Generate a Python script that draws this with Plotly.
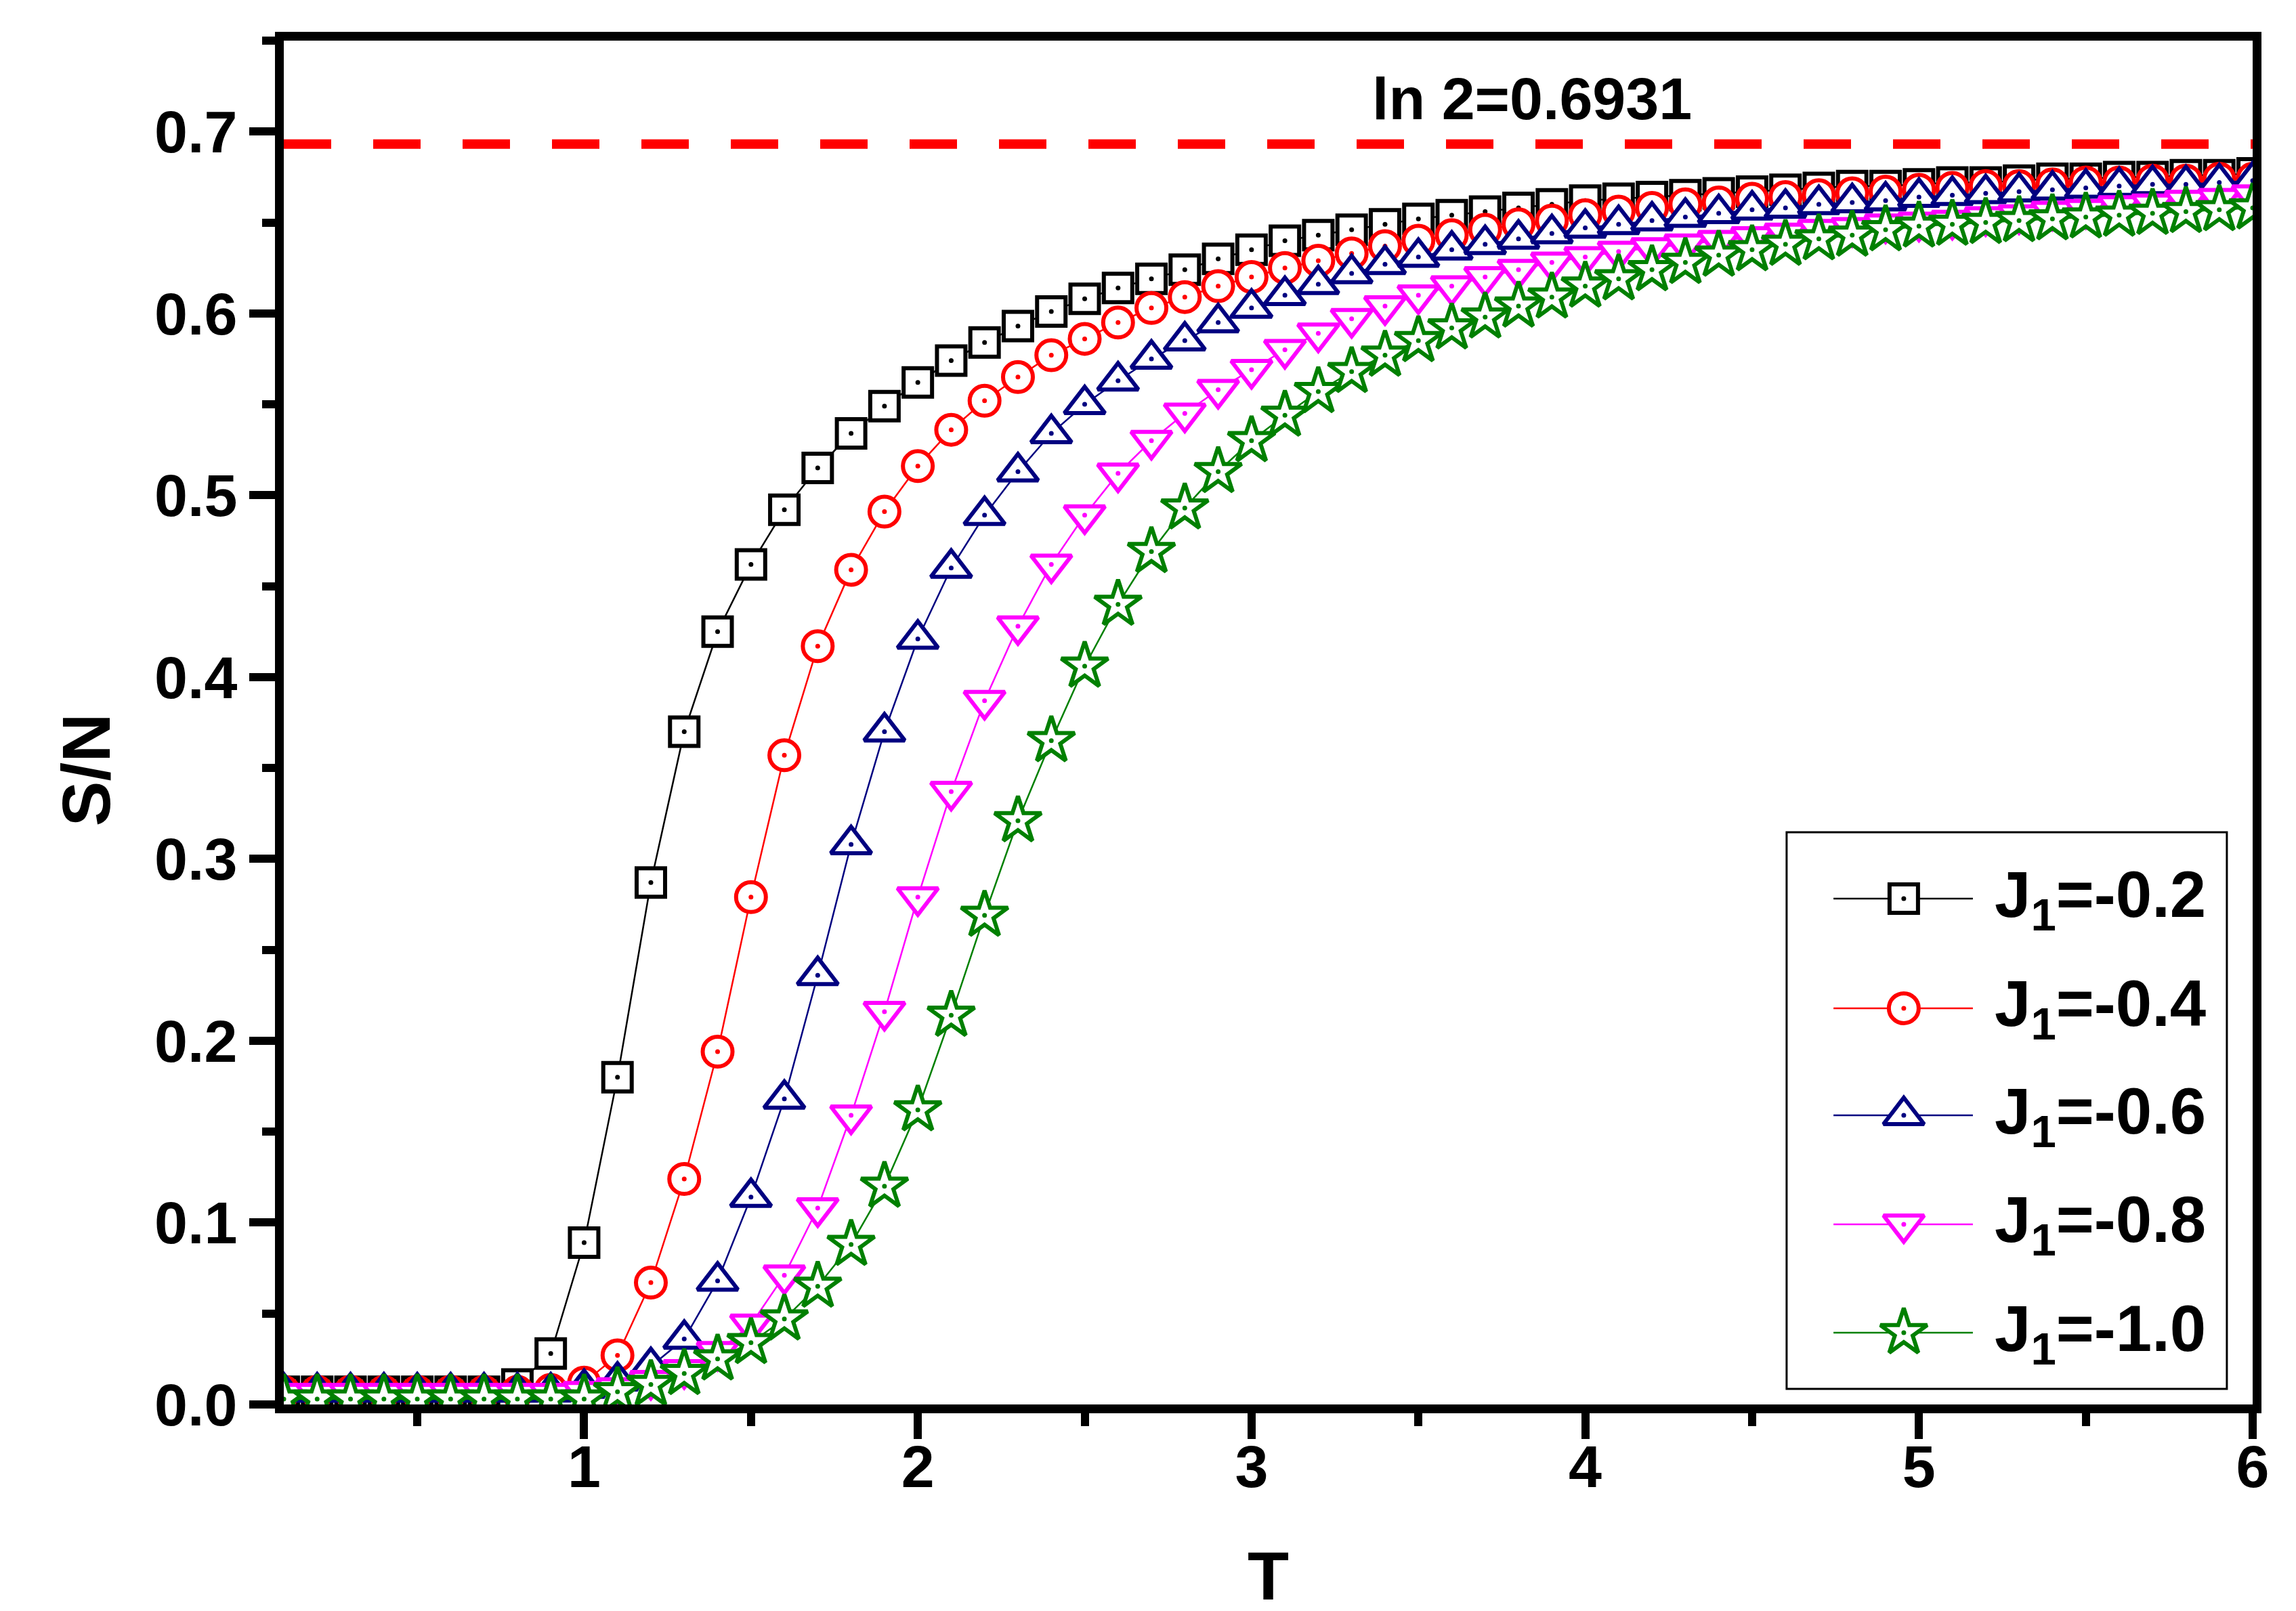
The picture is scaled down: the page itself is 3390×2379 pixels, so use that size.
import plotly.graph_objects as go

# ---------------- data ----------------
T = [0.1, 0.2, 0.3, 0.4, 0.5, 0.6, 0.7, 0.8, 0.9, 1.0,
     1.1, 1.2, 1.3, 1.4, 1.5, 1.6, 1.7, 1.8, 1.9, 2.0,
     2.1, 2.2, 2.3, 2.4, 2.5, 2.6, 2.7, 2.8, 2.9, 3.0,
     3.1, 3.2, 3.3, 3.4, 3.5, 3.6, 3.7, 3.8, 3.9, 4.0,
     4.1, 4.2, 4.3, 4.4, 4.5, 4.6, 4.7, 4.8, 4.9, 5.0,
     5.1, 5.2, 5.3, 5.4, 5.5, 5.6, 5.7, 5.8, 5.9, 6.0]

S_J1_m02 = [0.007, 0.007, 0.007, 0.007, 0.007, 0.007, 0.007, 0.011, 0.028, 0.089,
            0.180, 0.287, 0.370, 0.425, 0.462, 0.492, 0.515, 0.534, 0.549, 0.562,
            0.574, 0.584, 0.593, 0.601, 0.608, 0.614, 0.619, 0.624, 0.630, 0.635,
            0.640, 0.643, 0.646, 0.649, 0.652, 0.654, 0.656, 0.658, 0.660, 0.662,
            0.663, 0.664, 0.665, 0.666, 0.667, 0.668, 0.669, 0.670, 0.670, 0.671,
            0.672, 0.672, 0.673, 0.674, 0.674, 0.675, 0.675, 0.676, 0.676, 0.677]

S_J1_m04 = [0.007, 0.007, 0.007, 0.007, 0.007, 0.007, 0.007, 0.007, 0.008, 0.012,
            0.027, 0.067, 0.124, 0.194, 0.279, 0.357, 0.417, 0.459, 0.491, 0.516,
            0.536, 0.552, 0.565, 0.577, 0.586, 0.595, 0.603, 0.609, 0.615, 0.620,
            0.625, 0.629, 0.633, 0.637, 0.640, 0.643, 0.646, 0.649, 0.651, 0.654,
            0.656, 0.658, 0.660, 0.661, 0.663, 0.664, 0.665, 0.666, 0.667, 0.668,
            0.669, 0.670, 0.670, 0.671, 0.672, 0.672, 0.673, 0.673, 0.674, 0.674]

S_J1_m06 = [0.007, 0.007, 0.007, 0.007, 0.007, 0.007, 0.007, 0.007, 0.007, 0.009,
            0.013, 0.021, 0.036, 0.068, 0.114, 0.168, 0.236, 0.308, 0.370, 0.421,
            0.460, 0.489, 0.513, 0.534, 0.550, 0.563, 0.575, 0.585, 0.595, 0.603,
            0.610, 0.616, 0.622, 0.627, 0.631, 0.635, 0.638, 0.641, 0.644, 0.647,
            0.649, 0.651, 0.653, 0.655, 0.657, 0.658, 0.660, 0.661, 0.662, 0.664,
            0.665, 0.666, 0.667, 0.668, 0.669, 0.670, 0.671, 0.671, 0.672, 0.673]

S_J1_m08 = [0.006, 0.006, 0.006, 0.006, 0.006, 0.006, 0.006, 0.006, 0.006, 0.007,
            0.009, 0.013, 0.019, 0.029, 0.044, 0.071, 0.108, 0.159, 0.216, 0.279,
            0.337, 0.387, 0.428, 0.462, 0.489, 0.512, 0.530, 0.545, 0.558, 0.569,
            0.580, 0.589, 0.597, 0.604, 0.610, 0.615, 0.620, 0.624, 0.628, 0.631,
            0.634, 0.636, 0.638, 0.640, 0.642, 0.644, 0.646, 0.647, 0.649, 0.650,
            0.651, 0.653, 0.654, 0.656, 0.657, 0.659, 0.660, 0.662, 0.663, 0.665]

S_J1_m10 = [0.003, 0.003, 0.003, 0.003, 0.003, 0.003, 0.003, 0.003, 0.003, 0.003,
            0.007, 0.011, 0.017, 0.025, 0.034, 0.047, 0.065, 0.088, 0.120, 0.162,
            0.214, 0.269, 0.321, 0.365, 0.406, 0.440, 0.469, 0.493, 0.513, 0.530,
            0.544, 0.557, 0.568, 0.577, 0.585, 0.592, 0.598, 0.604, 0.609, 0.615,
            0.619, 0.624, 0.628, 0.632, 0.635, 0.638, 0.641, 0.643, 0.646, 0.648,
            0.649, 0.650, 0.651, 0.652, 0.653, 0.654, 0.655, 0.656, 0.657, 0.658]

LABELS = ["J<sub>1</sub>=-0.2", "J<sub>1</sub>=-0.4", "J<sub>1</sub>=-0.6",
          "J<sub>1</sub>=-0.8", "J<sub>1</sub>=-1.0"]
SERIES = [S_J1_m02, S_J1_m04, S_J1_m06, S_J1_m08, S_J1_m10]
COLORS = ["#000000", "#FF0000", "#000080", "#FF00FF", "#008000"]
SYMBOLS = ["square", "circle", "triangle-up", "triangle-down", "star"]
SIZES = [42, 44, 52, 52, 52]

LN2 = 0.6931
X_TICKS = [1, 2, 3, 4, 5, 6]
Y_TICKS = [0.0, 0.1, 0.2, 0.3, 0.4, 0.5, 0.6, 0.7]

FONT = "Liberation Sans, Arial, sans-serif"

fig = go.Figure()

for lab, ys, col, sym, sz in zip(LABELS, SERIES, COLORS, SYMBOLS, SIZES):
    fig.add_trace(go.Scatter(
        x=T, y=ys, mode="lines+markers", name=lab, showlegend=False,
        line=dict(color=col, width=2.5),
        marker=dict(symbol=sym, size=sz, color="white",
                    line=dict(color=col, width=6)),
    ))
    fig.add_trace(go.Scatter(
        x=T, y=ys, mode="markers", showlegend=False, hoverinfo="skip",
        marker=dict(symbol="circle", size=7, color=col, line=dict(width=0)),
    ))

# ---- custom legend (drawn on an overlay axis in paper-like units) ----
LEG_X0, LEG_X1, LEG_Y0, LEG_Y1 = 0.7633, 0.9869, 0.0114, 0.4196
LEG_ROWS = [0.3709, 0.2905, 0.2120, 0.1321, 0.0526]
LEG_LINE = (0.7871, 0.8579)
LEG_MARK = 0.8228
LEG_TEXT_X = 0.8683

fig.add_shape(type="rect", xref="paper", yref="paper",
              x0=LEG_X0, x1=LEG_X1, y0=LEG_Y0, y1=LEG_Y1,
              line=dict(color="black", width=3), fillcolor="white", layer="below")

for lab, col, sym, sz, yr in zip(LABELS, COLORS, SYMBOLS, SIZES, LEG_ROWS):
    fig.add_trace(go.Scatter(
        x=list(LEG_LINE), y=[yr, yr], xaxis="x2", yaxis="y2", mode="lines",
        showlegend=False, hoverinfo="skip", line=dict(color=col, width=2.5)))
    fig.add_trace(go.Scatter(
        x=[LEG_MARK], y=[yr], xaxis="x2", yaxis="y2", mode="markers",
        showlegend=False, hoverinfo="skip",
        marker=dict(symbol=sym, size=sz, color="white", line=dict(color=col, width=6))))
    fig.add_trace(go.Scatter(
        x=[LEG_MARK], y=[yr], xaxis="x2", yaxis="y2", mode="markers",
        showlegend=False, hoverinfo="skip",
        marker=dict(symbol="circle", size=7, color=col, line=dict(width=0))))
    fig.add_annotation(x=LEG_TEXT_X, y=yr, xref="paper", yref="paper",
                       text=lab, showarrow=False, xanchor="left", yanchor="middle",
                       font=dict(family=FONT, size=96, color="black", weight="bold"))

# ---- ln 2 reference line ----
fig.add_shape(type="line", xref="paper", yref="y", x0=0, x1=1, y0=LN2, y1=LN2,
              line=dict(color="#FF0000", width=14, dash="70px,62px"), layer="above")
fig.add_annotation(x=3.84, y=0.718, xref="x", yref="y", text="ln 2=0.6931",
                   showarrow=False, xanchor="center", yanchor="middle",
                   font=dict(family=FONT, size=88, color="black", weight="bold"))

# ---- axis titles ----
fig.add_annotation(x=-0.1004, y=0.4652, xref="paper", yref="paper", text="S/N",
                   textangle=-90, showarrow=False, xanchor="center", yanchor="middle",
                   font=dict(family=FONT, size=100, color="black", weight="bold"))
fig.add_annotation(x=0.5, y=-0.1544, xref="paper", yref="paper", text="T",
                   showarrow=False, xanchor="center", yanchor="bottom",
                   font=dict(family=FONT, size=100, color="black", weight="bold"))

axis_common = dict(showline=True, linecolor="black", linewidth=13, mirror=True,
                   showgrid=False, zeroline=False, ticks="outside", ticklen=38,
                   tickwidth=12, tickcolor="black",
                   tickfont=dict(family=FONT, size=88, color="black", weight="bold"))

minor_common = dict(ticks="outside", ticklen=19, tickwidth=12, tickcolor="black")

fig.update_layout(
    width=3390, height=2379,
    margin=dict(l=411, r=72, t=52, b=313),
    paper_bgcolor="white", plot_bgcolor="white",
    showlegend=False,
    xaxis=dict(range=[0.1, 6.0], tickvals=X_TICKS, ticklabelstandoff=-35,
               minor=dict(dtick=0.5, tick0=0, **minor_common),
               **axis_common),
    yaxis=dict(range=[0, 0.75], tickvals=Y_TICKS, tickformat=".1f",
               ticklabelstandoff=0,
               minor=dict(dtick=0.05, tick0=0, **minor_common),
               **axis_common),
    xaxis2=dict(overlaying="x", range=[0, 1], visible=False, fixedrange=True),
    yaxis2=dict(overlaying="y", range=[0, 1], visible=False, fixedrange=True),
)

fig.write_html("out.html")
